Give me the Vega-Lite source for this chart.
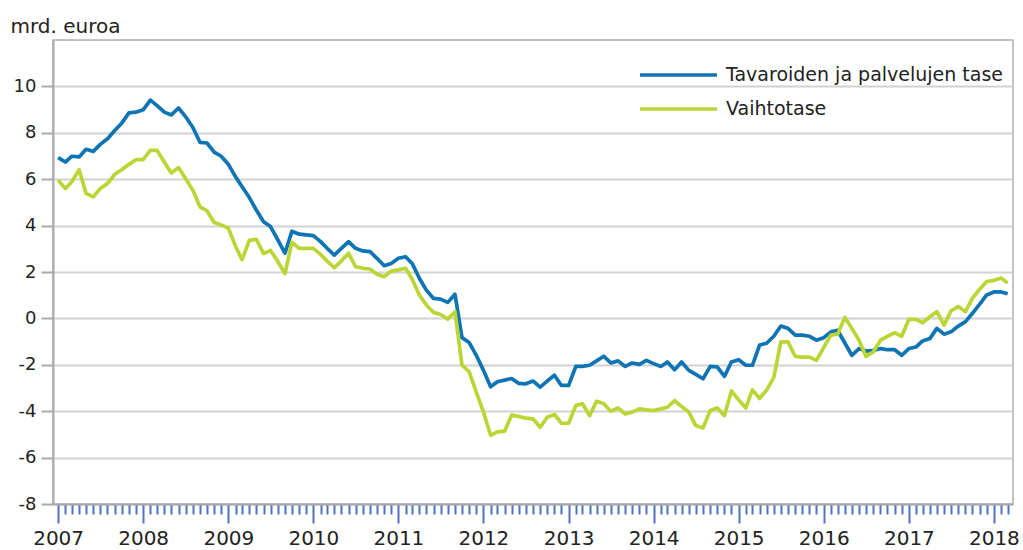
{
  "$schema": "https://vega.github.io/schema/vega-lite/v6.json",
  "width": 960,
  "height": 464,
  "autosize": {"type": "none"},
  "padding": {"left": 53, "top": 40, "right": 10, "bottom": 46},
  "config": {
    "view": {"stroke": "#b0b0b0", "strokeWidth": 1.5},
    "font": "DejaVu Sans"
  },
  "data": {
    "format": {"parse": {"m": "utc:'%Y-%m'"}},
    "values": [
      {"m":"2007-01","a":6.93,"b":5.96},{"m":"2007-02","a":6.74,"b":5.6},{"m":"2007-03","a":6.99,"b":5.89},{"m":"2007-04","a":6.96,"b":6.41},{"m":"2007-05","a":7.29,"b":5.39},{"m":"2007-06","a":7.2,"b":5.24},{"m":"2007-07","a":7.5,"b":5.6},{"m":"2007-08","a":7.74,"b":5.81},{"m":"2007-09","a":8.1,"b":6.21},{"m":"2007-10","a":8.41,"b":6.41},{"m":"2007-11","a":8.86,"b":6.64},{"m":"2007-12","a":8.89,"b":6.84},
      {"m":"2008-01","a":8.99,"b":6.84},{"m":"2008-02","a":9.41,"b":7.24},{"m":"2008-03","a":9.17,"b":7.24},{"m":"2008-04","a":8.89,"b":6.74},{"m":"2008-05","a":8.77,"b":6.27},{"m":"2008-06","a":9.07,"b":6.5},{"m":"2008-07","a":8.7,"b":6.03},{"m":"2008-08","a":8.24,"b":5.53},{"m":"2008-09","a":7.59,"b":4.81},{"m":"2008-10","a":7.56,"b":4.64},{"m":"2008-11","a":7.17,"b":4.13},{"m":"2008-12","a":6.99,"b":4.03},
      {"m":"2009-01","a":6.64,"b":3.89},{"m":"2009-02","a":6.1,"b":3.1},{"m":"2009-03","a":5.67,"b":2.53},{"m":"2009-04","a":5.21,"b":3.36},{"m":"2009-05","a":4.67,"b":3.41},{"m":"2009-06","a":4.17,"b":2.79},{"m":"2009-07","a":3.96,"b":2.93},{"m":"2009-08","a":3.39,"b":2.46},{"m":"2009-09","a":2.81,"b":1.93},{"m":"2009-10","a":3.76,"b":3.28},{"m":"2009-11","a":3.63,"b":3.02},{"m":"2009-12","a":3.6,"b":3.02},
      {"m":"2010-01","a":3.57,"b":3.02},{"m":"2010-02","a":3.31,"b":2.76},{"m":"2010-03","a":3.02,"b":2.47},{"m":"2010-04","a":2.73,"b":2.19},{"m":"2010-05","a":3.02,"b":2.47},{"m":"2010-06","a":3.31,"b":2.81},{"m":"2010-07","a":3.02,"b":2.23},{"m":"2010-08","a":2.91,"b":2.16},{"m":"2010-09","a":2.88,"b":2.13},{"m":"2010-10","a":2.59,"b":1.9},{"m":"2010-11","a":2.27,"b":1.8},{"m":"2010-12","a":2.37,"b":2.04},
      {"m":"2011-01","a":2.59,"b":2.09},{"m":"2011-02","a":2.66,"b":2.16},{"m":"2011-03","a":2.37,"b":1.7},{"m":"2011-04","a":1.73,"b":1.01},{"m":"2011-05","a":1.22,"b":0.58},{"m":"2011-06","a":0.86,"b":0.26},{"m":"2011-07","a":0.83,"b":0.17},{"m":"2011-08","a":0.69,"b":-0.03},{"m":"2011-09","a":1.04,"b":0.29},{"m":"2011-10","a":-0.83,"b":-2.01},{"m":"2011-11","a":-1.04,"b":-2.3},{"m":"2011-12","a":-1.58,"b":-3.17},
      {"m":"2012-01","a":-2.23,"b":-4.03},{"m":"2012-02","a":-2.95,"b":-5.04},{"m":"2012-03","a":-2.73,"b":-4.89},{"m":"2012-04","a":-2.66,"b":-4.86},{"m":"2012-05","a":-2.59,"b":-4.17},{"m":"2012-06","a":-2.8,"b":-4.23},{"m":"2012-07","a":-2.82,"b":-4.3},{"m":"2012-08","a":-2.7,"b":-4.33},{"m":"2012-09","a":-2.96,"b":-4.69},{"m":"2012-10","a":-2.7,"b":-4.26},{"m":"2012-11","a":-2.45,"b":-4.14},{"m":"2012-12","a":-2.89,"b":-4.52},
      {"m":"2013-01","a":-2.89,"b":-4.52},{"m":"2013-02","a":-2.07,"b":-3.75},{"m":"2013-03","a":-2.07,"b":-3.68},{"m":"2013-04","a":-2.02,"b":-4.19},{"m":"2013-05","a":-1.83,"b":-3.57},{"m":"2013-06","a":-1.63,"b":-3.68},{"m":"2013-07","a":-1.92,"b":-4.0},{"m":"2013-08","a":-1.83,"b":-3.86},{"m":"2013-09","a":-2.07,"b":-4.12},{"m":"2013-10","a":-1.92,"b":-4.04},{"m":"2013-11","a":-1.98,"b":-3.9},{"m":"2013-12","a":-1.81,"b":-3.94},
      {"m":"2014-01","a":-1.95,"b":-3.97},{"m":"2014-02","a":-2.07,"b":-3.9},{"m":"2014-03","a":-1.88,"b":-3.83},{"m":"2014-04","a":-2.21,"b":-3.54},{"m":"2014-05","a":-1.88,"b":-3.8},{"m":"2014-06","a":-2.24,"b":-4.04},{"m":"2014-07","a":-2.41,"b":-4.62},{"m":"2014-08","a":-2.6,"b":-4.72},{"m":"2014-09","a":-2.07,"b":-3.97},{"m":"2014-10","a":-2.09,"b":-3.86},{"m":"2014-11","a":-2.5,"b":-4.19},{"m":"2014-12","a":-1.88,"b":-3.13},
      {"m":"2015-01","a":-1.78,"b":-3.51},{"m":"2015-02","a":-2.02,"b":-3.86},{"m":"2015-03","a":-2.02,"b":-3.08},{"m":"2015-04","a":-1.15,"b":-3.45},{"m":"2015-05","a":-1.07,"b":-3.09},{"m":"2015-06","a":-0.77,"b":-2.54},{"m":"2015-07","a":-0.33,"b":-1.01},{"m":"2015-08","a":-0.43,"b":-1.01},{"m":"2015-09","a":-0.72,"b":-1.64},{"m":"2015-10","a":-0.72,"b":-1.67},{"m":"2015-11","a":-0.77,"b":-1.67},{"m":"2015-12","a":-0.94,"b":-1.81},
      {"m":"2016-01","a":-0.83,"b":-1.26},{"m":"2016-02","a":-0.58,"b":-0.72},{"m":"2016-03","a":-0.51,"b":-0.68},{"m":"2016-04","a":-1.06,"b":0.04},{"m":"2016-05","a":-1.59,"b":-0.43},{"m":"2016-06","a":-1.3,"b":-0.94},{"m":"2016-07","a":-1.41,"b":-1.64},{"m":"2016-08","a":-1.38,"b":-1.45},{"m":"2016-09","a":-1.3,"b":-0.94},{"m":"2016-10","a":-1.35,"b":-0.77},{"m":"2016-11","a":-1.35,"b":-0.62},{"m":"2016-12","a":-1.59,"b":-0.77},
      {"m":"2017-01","a":-1.3,"b":-0.04},{"m":"2017-02","a":-1.23,"b":-0.04},{"m":"2017-03","a":-0.97,"b":-0.19},{"m":"2017-04","a":-0.87,"b":0.07},{"m":"2017-05","a":-0.43,"b":0.29},{"m":"2017-06","a":-0.68,"b":-0.29},{"m":"2017-07","a":-0.58,"b":0.33},{"m":"2017-08","a":-0.33,"b":0.51},{"m":"2017-09","a":-0.14,"b":0.29},{"m":"2017-10","a":0.22,"b":0.87},{"m":"2017-11","a":0.62,"b":1.26},{"m":"2017-12","a":1.01,"b":1.59},
      {"m":"2018-01","a":1.14,"b":1.64},{"m":"2018-02","a":1.14,"b":1.74},{"m":"2018-03","a":1.06,"b":1.52}
    ]
  },
  "transform": [{"fold": ["a", "b"], "as": ["s", "v"]}],
  "mark": {"type": "line", "strokeWidth": 3.7, "strokeJoin": "round"},
  "encoding": {
    "x": {
      "field": "m",
      "type": "temporal",
      "scale": {
        "type": "utc",
        "domain": [
          {"year": 2006, "month": 12, "date": 10, "utc": true},
          {"year": 2018, "month": 3, "date": 24, "utc": true}
        ]
      },
      "axis": {
        "title": null,
        "grid": false,
        "tickCount": {"interval": "month", "step": 1},
        "tickColor": "#4f72c2",
        "tickWidth": 2,
        "tickSize": {"condition": {"test": "utcmonth(datum.value) === 0", "value": 19}, "value": 10},
        "labelExpr": "utcmonth(datum.value) === 0 ? utcFormat(datum.value, '%Y') : ''",
        "labelOverlap": false,
        "labelFlush": false,
        "labelBound": false,
        "labelFontSize": 20,
        "labelColor": "#222222",
        "labelPadding": 5,
        "domainColor": "#a9a9a9",
        "domainWidth": 2
      }
    },
    "y": {
      "field": "v",
      "type": "quantitative",
      "scale": {"domain": [-8, 12], "nice": false, "zero": false},
      "axis": {
        "values": [-8, -6, -4, -2, 0, 2, 4, 6, 8, 10],
        "labelExpr": "replace(datum.label, '\u2212', '-')",
        "grid": true,
        "gridColor": "#d2d2d2",
        "gridWidth": 2,
        "domainColor": "#a9a9a9",
        "domainWidth": 2,
        "tickColor": "#a9a9a9",
        "tickSize": 12,
        "tickWidth": 2,
        "labelFontSize": 18,
        "labelColor": "#222222",
        "labelPadding": 5,
        "title": "mrd. euroa",
        "titleAngle": 0,
        "titleAlign": "left",
        "titleBaseline": "alphabetic",
        "titleX": -43,
        "titleY": -8,
        "titleFontSize": 20,
        "titleFontWeight": "normal",
        "titleColor": "#222222"
      }
    },
    "color": {
      "field": "s",
      "type": "nominal",
      "scale": {"domain": ["a", "b"], "range": ["#0e74b4", "#bcd534"]},
      "legend": {
        "title": null,
        "orient": "none",
        "legendX": 585,
        "legendY": 27,
        "symbolType": "stroke",
        "symbolSize": 5929,
        "symbolStrokeWidth": 3.5,
        "clipHeight": 16,
        "rowPadding": 15,
        "labelOffset": 7,
        "labelFontSize": 19,
        "labelColor": "#222222",
        "labelLimit": 400,
        "labelExpr": "datum.value === 'a' ? 'Tavaroiden ja palvelujen tase' : 'Vaihtotase'"
      }
    }
  }
}
